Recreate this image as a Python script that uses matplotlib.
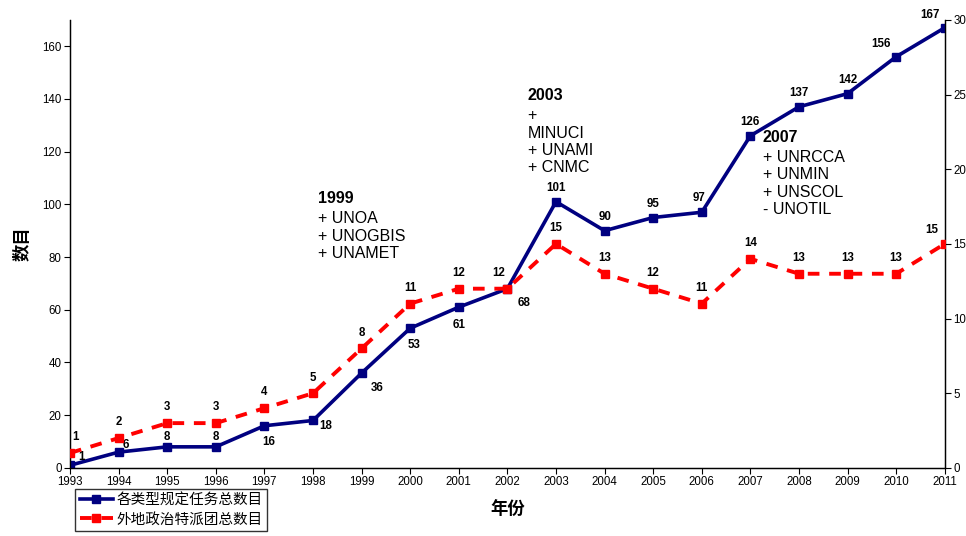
import matplotlib
matplotlib.use("Agg")
import matplotlib.pyplot as plt
from matplotlib.lines import Line2D

plt.rcParams['font.family'] = ['Liberation Sans', 'Noto Sans CJK SC', 'DejaVu Sans']

years = list(range(1993, 2012))
mandates = [1, 6, 8, 8, 16, 18, 36, 53, 61, 68, 101, 90, 95, 97, 126, 137, 142, 156, 167]
missions = [1, 2, 3, 3, 4, 5, 8, 11, 12, 12, 15, 13, 12, 11, 14, 13, 13, 13, 15]
series_names = ['各类型规定任务总数目', '外地政治特派团总数目']
xlabel = '年份'
ylabel = '数目'
notes = [
    ('1999', '+ UNOA\n+ UNOGBIS\n+ UNAMET'),
    ('2003', '+\nMINUCI\n+ UNAMI\n+ CNMC'),
    ('2007', '+ UNRCCA\n+ UNMIN\n+ UNSCOL\n- UNOTIL'),
]

# label offsets (points) for the blue series
blue_off = [(8, 6), (5, 5), (0, 7), (0, 7), (3, -12), (9, -4), (11, -11), (3, -12),
            (0, -13), (12, -10), (0, 10), (0, 10), (0, 10), (-2, 10), (0, 10), (0, 10),
            (0, 10), (-11, 9), (-11, 9)]
red_off = [(4, 7), (0, 7), (0, 7), (0, 7), (0, 7), (0, 7), (0, 7), (0, 7),
           (0, 7), (-6, 7), (0, 7), (0, 7), (0, 7), (0, 7), (0, 7), (0, 7),
           (0, 7), (0, 7), (-9, 6)]
note_pos = [(0.283, 0.618), (0.523, 0.848), (0.792, 0.755)]

fig = plt.figure(figsize=(9.66, 5.36), dpi=100)
ax = fig.add_axes([0.0725, 0.127, 0.9055, 0.836])
ax2 = ax.twinx()

blue = '#000080'
red = '#FF0000'
ax.plot(years, mandates, color=blue, lw=2.6, marker='s', ms=6, zorder=3)
ax2.plot(years, missions, color=red, lw=2.8, ls=(0, (3, 2.5)), marker='s', ms=6, zorder=3)

ax.set_xlim(1993, 2011)
ax.set_ylim(0, 170)
ax2.set_ylim(0, 30)
ax.set_xticks(years)
ax.set_yticks(range(0, 161, 20))
ax2.set_yticks(range(0, 31, 5))
ax.tick_params(labelsize=8.3, length=4, width=0.8, pad=2)
ax2.tick_params(labelsize=8.3, length=4, width=0.8, pad=2)
ax.spines['top'].set_visible(False)
ax2.spines['top'].set_visible(False)
for a in (ax, ax2):
    for s in a.spines.values():
        s.set_linewidth(0.9)

for x, v, o in zip(years, mandates, blue_off):
    ax.annotate(str(v), (x, v), xytext=o, textcoords='offset points',
                ha='center', va='center', fontsize=8.3, fontweight='bold', zorder=5)
for x, v, o in zip(years, missions, red_off):
    ax2.annotate(str(v), (x, v), xytext=o, textcoords='offset points',
                 ha='center', va='bottom', fontsize=8.3, fontweight='bold', zorder=5)

for (head, body), (px, py) in zip(notes, note_pos):
    ax.text(px, py, head, transform=ax.transAxes, fontsize=11.5, fontweight='bold',
            ha='left', va='top')
    ax.text(px, py - 0.045, body, transform=ax.transAxes, fontsize=11.5,
            ha='left', va='top', linespacing=1.2)

ax.set_xlabel(xlabel, fontsize=12.5, fontweight='bold', family=['Noto Sans CJK SC'], labelpad=9)
ax.set_ylabel(ylabel, fontsize=12.5, fontweight='bold', family=['Noto Sans CJK SC'], labelpad=8)

handles = [Line2D([], [], color=blue, lw=2.6, marker='s', ms=6),
           Line2D([], [], color=red, lw=2.8, ls=(0, (3, 2.5)), marker='s', ms=6)]
leg = fig.legend(handles, series_names, loc='upper left', bbox_to_anchor=(0.078, 0.088),
                 prop={'family': ['Noto Sans CJK SC'], 'size': 10.5}, frameon=True,
                 fancybox=False, edgecolor='black', handlelength=2.3, borderpad=0.3,
                 labelspacing=0.35, handletextpad=0.2, borderaxespad=0)
leg.get_frame().set_linewidth(1.0)

fig.savefig('out.png', dpi=100)
